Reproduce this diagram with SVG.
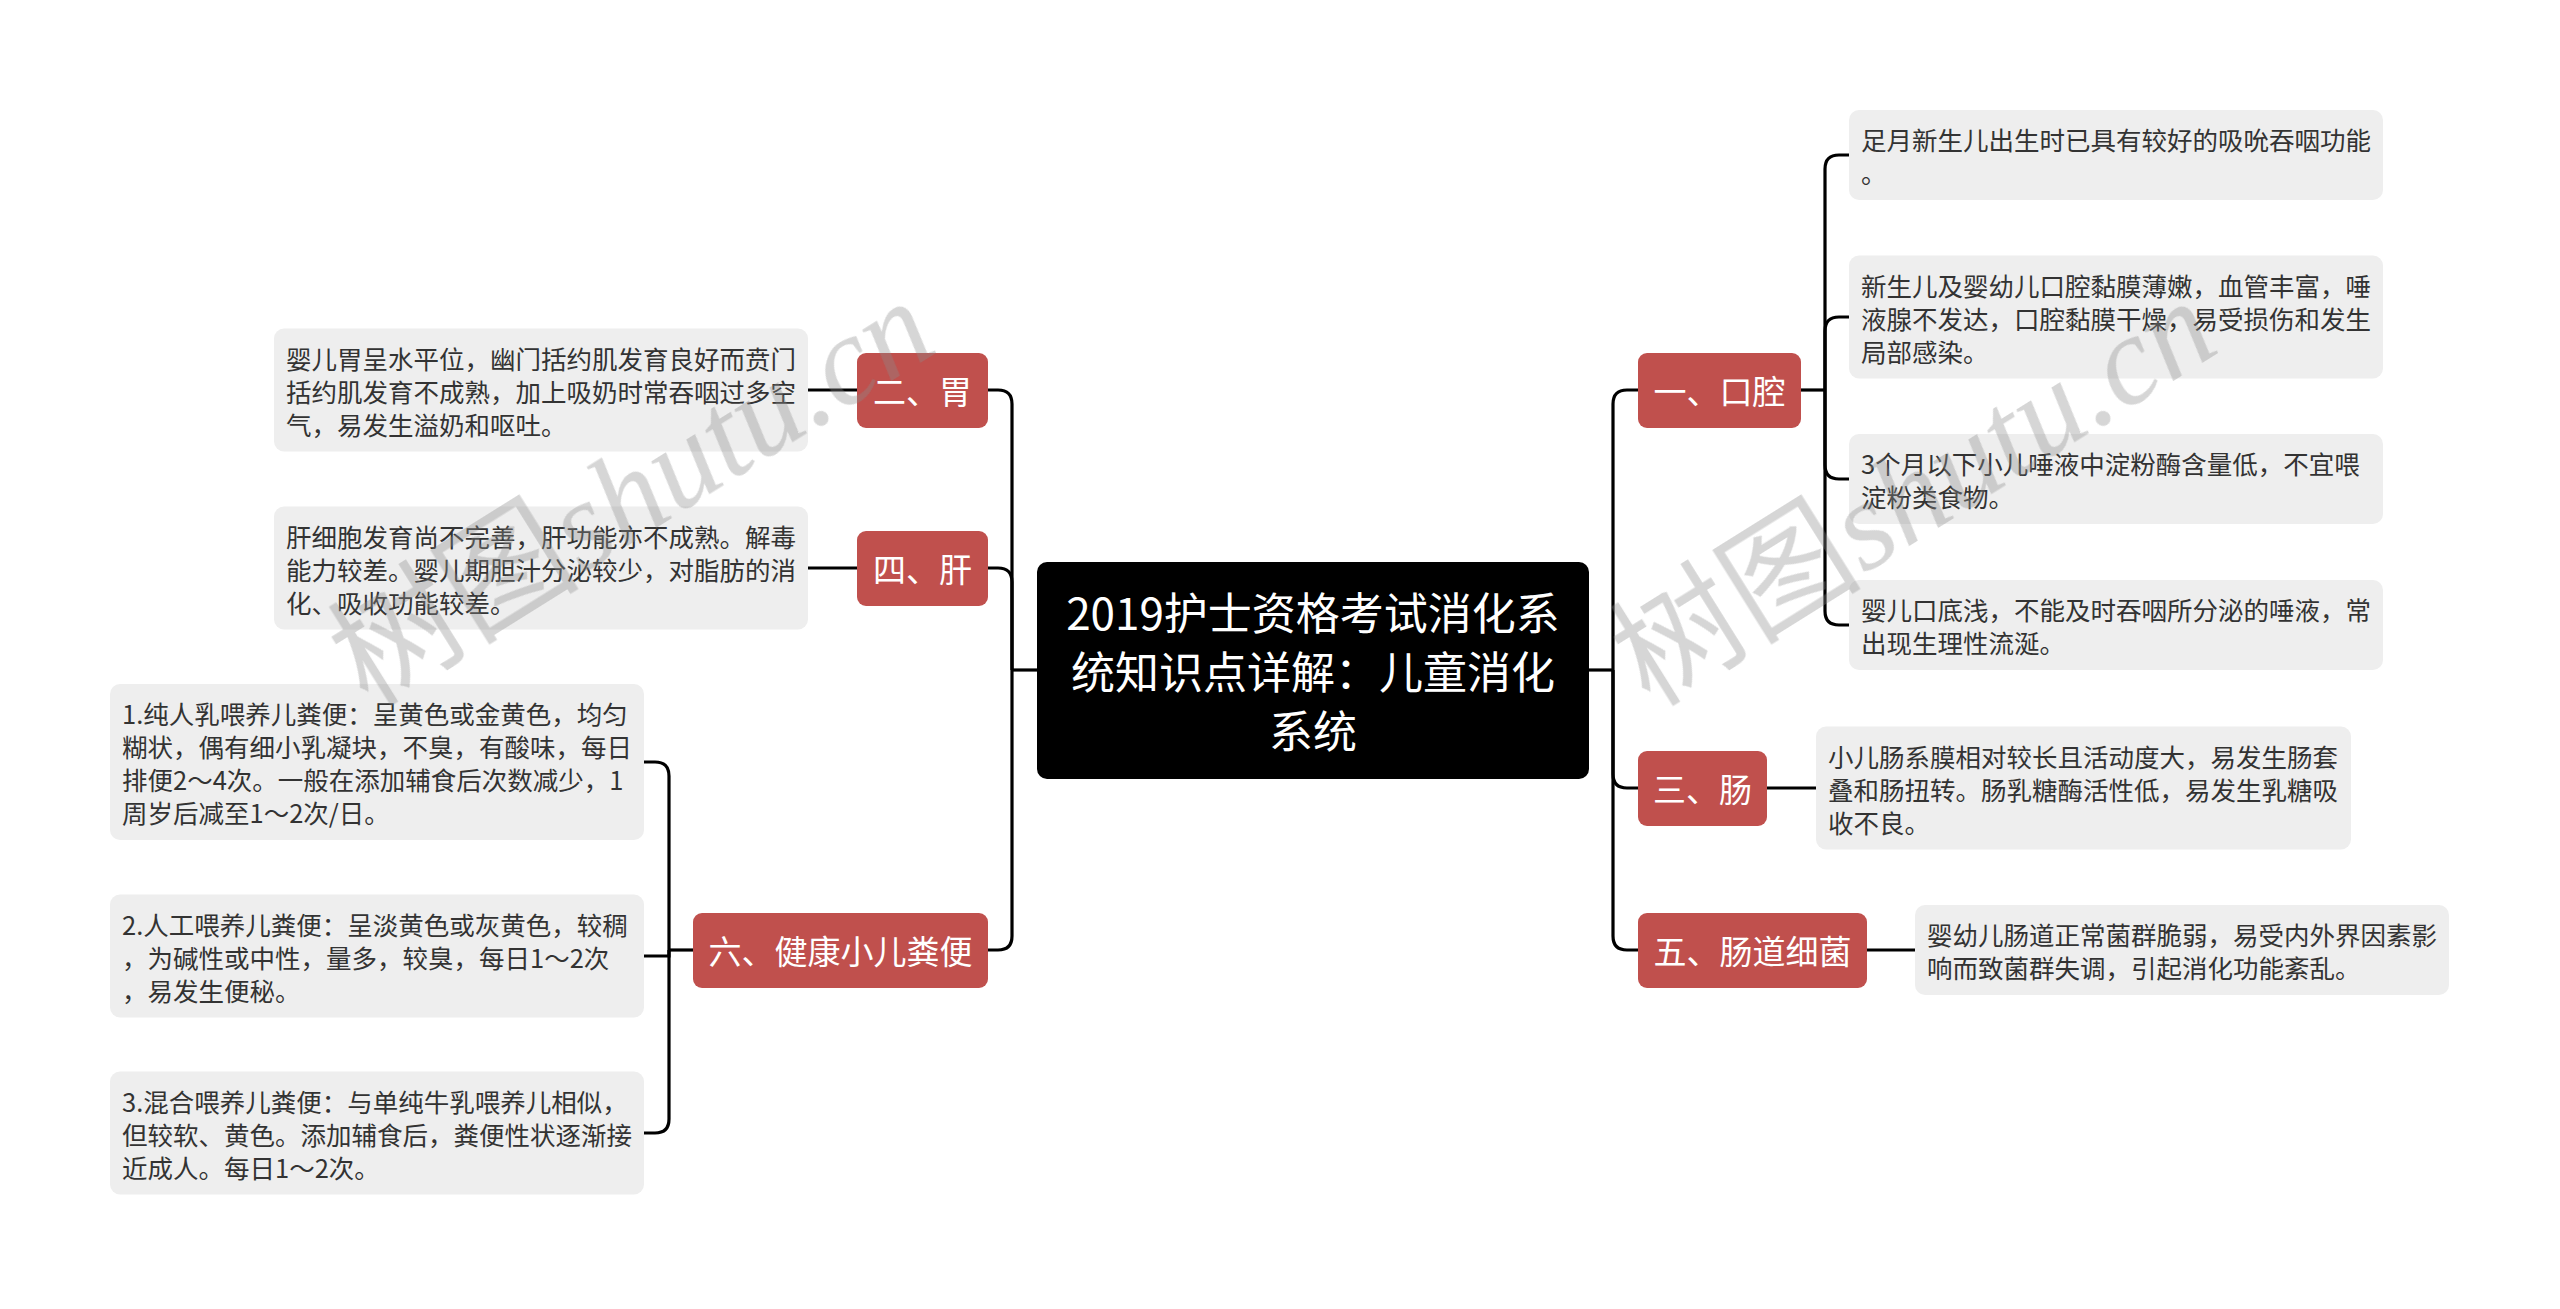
<svg xmlns="http://www.w3.org/2000/svg" width="2560" height="1309" viewBox="0 0 2560 1309">
<style>
.bg{fill:#ffffff}
.root rect{fill:#000000}
.root text{fill:#ffffff;font-family:"Noto Sans CJK SC","Noto Sans",sans-serif;font-size:44px;text-anchor:middle;dominant-baseline:central}
.topic rect{fill:#c0504d}
.topic text{fill:#ffffff;font-family:"Noto Sans CJK SC","Noto Sans",sans-serif;font-size:33px;text-anchor:middle;dominant-baseline:central}
.leaf rect{fill:#eeeeee}
.leaf text{fill:#333333;font-family:"Noto Sans CJK SC","Noto Sans",sans-serif;font-size:25.5px;dominant-baseline:central}
#connectors path{fill:none;stroke:#000000;stroke-width:3.2}
.wm{fill:#8c8c8c;opacity:0.36;font-size:126px}
.wm .cjk{font-family:"Noto Sans CJK SC",sans-serif}
.wm .lat{font-family:"Liberation Serif",serif;font-style:italic}
</style>
<rect class="bg" x="0" y="0" width="2560" height="1309"/>

<g id="connectors">
<path d="M1037 670 H1012"/>
<path d="M1012 670 V404 Q1012 390 998 390 H988"/>
<path d="M1012 670 V582 Q1012 568 998 568 H988"/>
<path d="M1012 670 V936 Q1012 950 998 950 H988"/>
<path d="M808 390 H857"/>
<path d="M808 568 H857"/>
<path d="M693 950 H669"/>
<path d="M669 950 V776 Q669 762 655 762 H644"/>
<path d="M669 950 V956 H644"/>
<path d="M669 950 V1119 Q669 1133 655 1133 H644"/>
<path d="M1589 670 H1613"/>
<path d="M1613 670 V404 Q1613 390 1627 390 H1638"/>
<path d="M1613 670 V774 Q1613 788 1627 788 H1638"/>
<path d="M1613 670 V936 Q1613 950 1627 950 H1638"/>
<path d="M1801 390 H1825"/>
<path d="M1825 390 V169 Q1825 155 1839 155 H1849"/>
<path d="M1825 390 V331 Q1825 317 1839 317 H1849"/>
<path d="M1825 390 V465 Q1825 479 1839 479 H1849"/>
<path d="M1825 390 V611 Q1825 625 1839 625 H1849"/>
<path d="M1767 788 H1816"/>
<path d="M1867 950 H1915"/>
</g>

<g id="root" class="root">
<rect x="1037" y="562" width="552" height="217" rx="10"/>
<text x="1313" y="611">2019护士资格考试消化系</text>
<text x="1313" y="670">统知识点详解：儿童消化</text>
<text x="1313" y="729">系统</text>
</g>

<g id="t-wei" class="topic">
<rect x="857" y="353" width="131" height="75" rx="9"/>
<text x="922.5" y="390">二、胃</text>
</g>
<g id="t-gan" class="topic">
<rect x="857" y="531" width="131" height="75" rx="9"/>
<text x="922.5" y="568">四、肝</text>
</g>
<g id="t-fenbian" class="topic">
<rect x="693" y="913" width="295" height="75" rx="9"/>
<text x="840.5" y="950">六、健康小儿粪便</text>
</g>
<g id="t-kouqiang" class="topic">
<rect x="1638" y="353" width="163" height="75" rx="9"/>
<text x="1719.5" y="390">一、口腔</text>
</g>
<g id="t-chang" class="topic">
<rect x="1638" y="751" width="129" height="75" rx="9"/>
<text x="1702.5" y="788">三、肠</text>
</g>
<g id="t-xijun" class="topic">
<rect x="1638" y="913" width="229" height="75" rx="9"/>
<text x="1752.5" y="950">五、肠道细菌</text>
</g>

<g id="l-wei" class="leaf">
<rect x="274" y="328.5" width="534" height="123" rx="10"/>
<text x="286" y="357">婴儿胃呈水平位，幽门括约肌发育良好而贲门</text>
<text x="286" y="390">括约肌发育不成熟，加上吸奶时常吞咽过多空</text>
<text x="286" y="423">气，易发生溢奶和呕吐。</text>
</g>
<g id="l-gan" class="leaf">
<rect x="274" y="506.5" width="534" height="123" rx="10"/>
<text x="286" y="535">肝细胞发育尚不完善，肝功能亦不成熟。解毒</text>
<text x="286" y="568">能力较差。婴儿期胆汁分泌较少，对脂肪的消</text>
<text x="286" y="601">化、吸收功能较差。</text>
</g>
<g id="l-fb1" class="leaf">
<rect x="110" y="684" width="534" height="156" rx="10"/>
<text x="122" y="712.5">1.纯人乳喂养儿粪便：呈黄色或金黄色，均匀</text>
<text x="122" y="745.5">糊状，偶有细小乳凝块，不臭，有酸味，每日</text>
<text x="122" y="778.5">排便2～4次。一般在添加辅食后次数减少，1</text>
<text x="122" y="811.5">周岁后减至1～2次/日。</text>
</g>
<g id="l-fb2" class="leaf">
<rect x="110" y="894.5" width="534" height="123" rx="10"/>
<text x="122" y="923">2.人工喂养儿粪便：呈淡黄色或灰黄色，较稠</text>
<text x="122" y="956">，为碱性或中性，量多，较臭，每日1～2次</text>
<text x="122" y="989">，易发生便秘。</text>
</g>
<g id="l-fb3" class="leaf">
<rect x="110" y="1071.5" width="534" height="123" rx="10"/>
<text x="122" y="1100">3.混合喂养儿粪便：与单纯牛乳喂养儿相似，</text>
<text x="122" y="1133">但较软、黄色。添加辅食后，粪便性状逐渐接</text>
<text x="122" y="1166">近成人。每日1～2次。</text>
</g>

<g id="l-kq1" class="leaf">
<rect x="1849" y="110" width="534" height="90" rx="10"/>
<text x="1861" y="138.5">足月新生儿出生时已具有较好的吸吮吞咽功能</text>
<text x="1861" y="171.5">。</text>
</g>
<g id="l-kq2" class="leaf">
<rect x="1849" y="255.5" width="534" height="123" rx="10"/>
<text x="1861" y="284">新生儿及婴幼儿口腔黏膜薄嫩，血管丰富，唾</text>
<text x="1861" y="317">液腺不发达，口腔黏膜干燥，易受损伤和发生</text>
<text x="1861" y="350">局部感染。</text>
</g>
<g id="l-kq3" class="leaf">
<rect x="1849" y="434" width="534" height="90" rx="10"/>
<text x="1861" y="462.5">3个月以下小儿唾液中淀粉酶含量低，不宜喂</text>
<text x="1861" y="495.5">淀粉类食物。</text>
</g>
<g id="l-kq4" class="leaf">
<rect x="1849" y="580" width="534" height="90" rx="10"/>
<text x="1861" y="608.5">婴儿口底浅，不能及时吞咽所分泌的唾液，常</text>
<text x="1861" y="641.5">出现生理性流涎。</text>
</g>
<g id="l-chang" class="leaf">
<rect x="1816" y="726.5" width="535" height="123" rx="10"/>
<text x="1828" y="755">小儿肠系膜相对较长且活动度大，易发生肠套</text>
<text x="1828" y="788">叠和肠扭转。肠乳糖酶活性低，易发生乳糖吸</text>
<text x="1828" y="821">收不良。</text>
</g>
<g id="l-xijun" class="leaf">
<rect x="1915" y="905" width="534" height="90" rx="10"/>
<text x="1927" y="933.5">婴幼儿肠道正常菌群脆弱，易受内外界因素影</text>
<text x="1927" y="966.5">响而致菌群失调，引起消化功能紊乱。</text>
</g>

<g id="watermarks" class="wm">
<text transform="translate(368 708) rotate(-32)"><tspan class="cjk">树图</tspan><tspan class="lat">shutu.cn</tspan></text>
<text transform="translate(1650 708) rotate(-32)"><tspan class="cjk">树图</tspan><tspan class="lat">shutu.cn</tspan></text>
</g>
</svg>
